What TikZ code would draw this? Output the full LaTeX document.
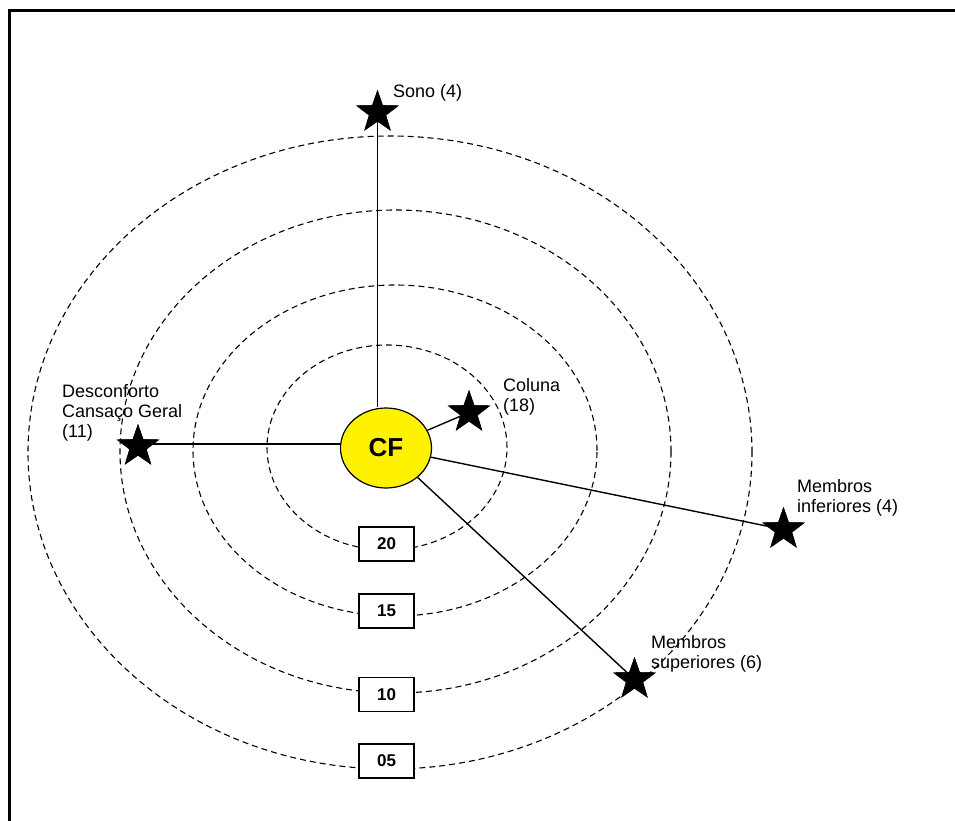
\documentclass[tikz,border=0pt]{standalone}
\usepackage{fontspec}
\setmainfont{Liberation Sans}
\usetikzlibrary{shapes.geometric}
\begin{document}
\begin{tikzpicture}[x=1pt,y=-1pt,
  ring/.style={draw=black,dashed,dash pattern=on 6pt off 4pt,line width=1.1pt},
  conn/.style={draw=black,line width=1.4pt},
  starnode/.style={star,star points=5,star point ratio=2.5,fill=black,draw=none,minimum size=45pt,inner sep=0pt},
  lbl/.style={anchor=west,align=left,inner sep=0pt,font=\fontsize{18}{20}\selectfont},
  numbox/.style={draw=black,fill=white,line width=1.2pt,minimum width=55pt,minimum height=34pt,inner sep=0pt,font=\fontsize{17}{20}\selectfont\bfseries}]
\useasboundingbox (0,0) rectangle (955,821);
\fill[white] (0,0) rectangle (955,821);
% frame
\draw[line width=2.5pt] (9.3,830) -- (9.3,10.3) -- (960,10.3);
% rings
\draw[ring] (387,447.5) ellipse [x radius=120pt, y radius=102.5pt];
\draw[ring] (395,450.5) ellipse [x radius=202pt, y radius=165.5pt];
\draw[ring] (395.5,451.5) ellipse [x radius=275.5pt, y radius=241.5pt];
\draw[ring] (390,452.5) ellipse [x radius=362pt, y radius=316.5pt];
% number boxes
\node[numbox] (n20) at (386.5,544) {20};
\node[numbox] (n15) at (386.5,611) {15};
\node[numbox] (n10) at (386.5,694.5) {10};
\node[numbox] (n05) at (386.5,761) {05};
% centre
\node[ellipse,draw=black,fill=yellow,line width=1.2pt,minimum width=91pt,minimum height=80pt,inner sep=0pt,font=\fontsize{26}{30}\selectfont\bfseries] (cf) at (386,448) {CF};
% stars
\node[starnode] (sono) at (377.5,112.5) {};
\node[starnode] (coluna) at (469,412.5) {};
\node[starnode] (desc) at (138,446.5) {};
\node[starnode] (minf) at (783.5,529.5) {};
\node[starnode] (msup) at (634.5,679.5) {};
% connectors
\coordinate (sonoB) at (377.5,120);
\coordinate (descR) at (150,444);
\draw[conn] (cf.north -| sonoB) -- (sonoB);
\draw[conn] (cf) -- (coluna.center);
\draw[conn] (cf.west |- descR) -- (descR);
\draw[conn] (cf) -- (minf.center);
\draw[conn] (cf) -- (msup.center);
% redraw stars on top
\node[starnode] at (sono) {};
\node[starnode] at (coluna) {};
\node[starnode] at (desc) {};
\node[starnode] at (minf) {};
\node[starnode] at (msup) {};
% labels
\node[lbl] (tsono) at (393,93) {Sono (4)};
\node[lbl] (tcol) at (503,397) {Coluna\\(18)};
\node[lbl] (tdesc) at (62,413) {Desconforto\\Cansaço Geral\\(11)};
\node[lbl] (tminf) at (797,498) {Membros\\inferiores (4)};
\node[lbl] (tmsup) at (651,654) {Membros\\superiores (6)};
\end{tikzpicture}
\end{document}
